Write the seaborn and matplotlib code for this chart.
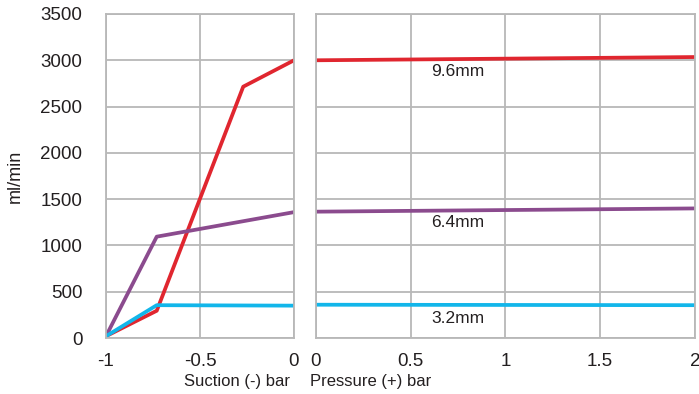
import numpy as np
import pandas as pd
import seaborn as sns
import matplotlib
matplotlib.use("Agg")
import matplotlib.pyplot as plt

# suction side (bar, negative) -> flow ml/min
suction_x = [-1.0, -0.73, -0.27, 0.0]
suction_96 = [20, 295, 2715, 3000]
suction_x_small = [-1.0, -0.73, 0.0]
suction_64 = [20, 1095, 1360]
suction_32 = [20, 355, 350]

# pressure side (bar, positive)
pressure_x = [0.0, 2.0]
pressure_96 = [3000, 3035]
pressure_64 = [1365, 1400]
pressure_32 = [360, 355]

tube_labels = ["9.6mm", "6.4mm", "3.2mm"]
label_y = [2880, 1245, 215]
colors = ["#e0262f", "#8b4b8e", "#12b6ea"]

sns.set_style("white")
plt.rcParams['font.family'] = ['Liberation Sans', 'DejaVu Sans']
text_col = "#231f20"
grid_col = "#b8b8b8"

fig = plt.figure(figsize=(6.99, 3.94), dpi=100)
ax1 = fig.add_axes([0.1516, 0.142, 0.269, 0.8225])
ax2 = fig.add_axes([0.452, 0.142, 0.542, 0.8225])

left_series = [(suction_x, suction_96), (suction_x_small, suction_64), (suction_x_small, suction_32)]
for (xs, ys), c in zip(left_series, colors):
    df = pd.DataFrame({"x": xs, "y": ys})
    sns.lineplot(data=df, x="x", y="y", ax=ax1, color=c, linewidth=2.7, sort=False)

right_series = [pressure_96, pressure_64, pressure_32]
for ys, c in zip(right_series, colors):
    df = pd.DataFrame({"x": pressure_x, "y": ys})
    sns.lineplot(data=df, x="x", y="y", ax=ax2, color=c, linewidth=2.7)

for lab, yy in zip(tube_labels, label_y):
    ax2.text(0.75, yy, lab, ha="center", va="center", fontsize=12.5, color=text_col)

ax1.set_xlim(-1, 0)
ax2.set_xlim(0, 2)
for ax in (ax1, ax2):
    ax.set_ylim(0, 3500)
    ax.set_yticks(np.arange(0, 3501, 500))
    ax.grid(True, color=grid_col, linewidth=1.3)
    ax.set_axisbelow(True)
    for s in ax.spines.values():
        s.set_color(grid_col)
        s.set_linewidth(1.3)
    ax.tick_params(length=0, labelsize=13.5, colors=text_col, pad=11)
    ax.set_xlabel("")
    ax.set_ylabel("")

ax1.set_xticks([-1, -0.5, 0])
ax1.set_xticklabels(["-1", "-0.5", "0"])
ax1.set_yticklabels(["0", "500", "1000", "1500", "2000", "2500", "3000", "3500"])
ax1.tick_params(axis="y", pad=17)
ax1.set_ylabel("ml/min", fontsize=13, color=text_col, labelpad=12)

ax2.set_xticks([0, 0.5, 1, 1.5, 2])
ax2.set_xticklabels(["0", "0.5", "1", "1.5", "2"])
ax2.set_yticklabels([])

fig.text(0.415, 0.032, "Suction (-) bar", ha="right", va="center", fontsize=12, color=text_col)
fig.text(0.444, 0.032, "Pressure (+) bar", ha="left", va="center", fontsize=12, color=text_col)

fig.savefig("out.png", dpi=100)
